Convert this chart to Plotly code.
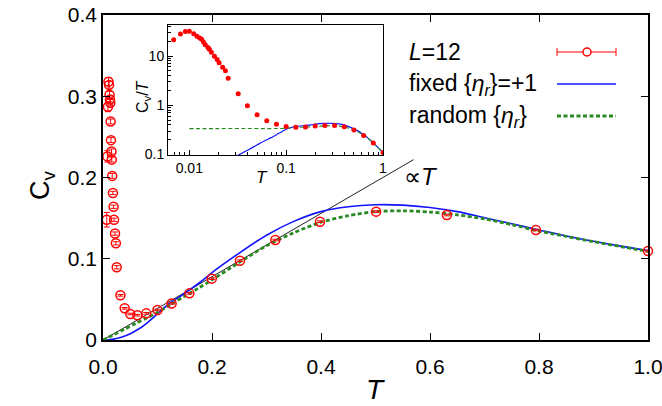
import plotly.graph_objects as go

# ---- L=12 Monte Carlo data: temperature, specific heat, error ----
T_L12 = [0.0069, 0.0081, 0.0091, 0.0100, 0.0111, 0.0120, 0.0128, 0.0134, 0.0140, 0.0146,
         0.0156, 0.0161, 0.0169, 0.0182, 0.0194, 0.0203, 0.0221, 0.0236, 0.0252, 0.0320,
         0.0398, 0.0501, 0.0631, 0.0794, 0.1000, 0.1259, 0.1585, 0.1995, 0.2512, 0.3162,
         0.3981, 0.5012, 0.6310, 0.7943, 1.0000]
C_L12 = [0.148, 0.226, 0.287, 0.318, 0.314, 0.302, 0.296, 0.292, 0.269, 0.246,
         0.232, 0.222, 0.202, 0.181, 0.164, 0.148, 0.131, 0.119, 0.0895, 0.055,
         0.039, 0.032, 0.0305, 0.0328, 0.037, 0.045, 0.0574, 0.0755, 0.0976, 0.123,
         0.1456, 0.158, 0.1538, 0.1354, 0.1095]
E_L12 = [0.009, 0.007, 0.006, 0.005, 0.004, 0.004, 0.003, 0.004, 0.003, 0.003,
         0.003, 0.003, 0.003, 0.002, 0.002, 0.002, 0.002, 0.002, 0.002, 0.001,
         0.001, 0.001, 0.001, 0.001, 0.001, 0.001, 0.001, 0.001, 0.001, 0.001,
         0.001, 0.001, 0.001, 0.001, 0.001]

# ---- fixed {eta_r} = +1 ----
T_fix = [0.0, 0.01, 0.02, 0.03, 0.04, 0.05, 0.06, 0.07, 0.08, 0.09, 0.10, 0.12, 0.15,
         0.18, 0.20, 0.25, 0.30, 0.35, 0.40, 0.45, 0.50, 0.55, 0.60, 0.65, 0.70, 0.75,
         0.80, 0.85, 0.90, 0.95, 1.00]
C_fix = [0.0, 0.0003, 0.0011, 0.0027, 0.0049, 0.0078, 0.0114, 0.0154, 0.0204, 0.0262,
         0.0325, 0.0440, 0.0575, 0.0720, 0.0830, 0.1070, 0.1290, 0.1460, 0.1580, 0.1640,
         0.1665, 0.1660, 0.1630, 0.1580, 0.1505, 0.1430, 0.1355, 0.1280, 0.1215, 0.1155,
         0.1100]

# ---- random {eta_r} ----
T_rnd = [0.0, 0.01, 0.02, 0.04, 0.06, 0.08, 0.10, 0.125, 0.15, 0.175, 0.20, 0.25, 0.30,
         0.35, 0.40, 0.45, 0.50, 0.55, 0.60, 0.65, 0.70, 0.75, 0.80, 0.85, 0.90, 0.95, 1.00]
C_rnd = [0.0, 0.00337, 0.00674, 0.0135, 0.0202, 0.0270, 0.0339, 0.0442, 0.0540, 0.0638,
         0.0740, 0.0955, 0.1160, 0.1320, 0.1450, 0.1530, 0.1580, 0.1590, 0.1575, 0.1540,
         0.1490, 0.1420, 0.1340, 0.1275, 0.1210, 0.1150, 0.1090]

# ---- guide line proportional to T ----
T_lin = [0.0, 0.57]
C_lin = [0.0, 0.222]

RED = "#ff0000"
BLUE = "#1414ff"
GREEN = "#2a8a22"
FONT = "Liberation Sans, Arial, Helvetica, sans-serif"

fig = go.Figure()

# main panel
fig.add_trace(go.Scatter(x=T_lin, y=C_lin, mode="lines",
                         line=dict(color="#222222", width=1), xaxis="x", yaxis="y"))
fig.add_trace(go.Scatter(x=T_fix, y=C_fix, mode="lines", line_shape="spline",
                         line=dict(color=BLUE, width=1.6, smoothing=0.8), xaxis="x", yaxis="y"))
fig.add_trace(go.Scatter(x=T_rnd, y=C_rnd, mode="lines", line_shape="spline",
                         line=dict(color=GREEN, width=2.8, dash="4px,2.5px", smoothing=0.8),
                         xaxis="x", yaxis="y"))
fig.add_trace(go.Scatter(x=T_L12, y=C_L12, mode="markers",
                         marker=dict(symbol="circle-open", size=9, color=RED,
                                     line=dict(width=1.5, color=RED)),
                         error_y=dict(type="data", array=E_L12, color=RED, thickness=1, width=3),
                         xaxis="x", yaxis="y", cliponaxis=False))

# inset: C/T on log-log axes
ct_fix = [(t, c / t) for t, c in zip(T_fix, C_fix) if t > 0]
ct_rnd = [(t, c / t) for t, c in zip(T_rnd, C_rnd) if t > 0]
ct_l12 = [(t, c / t) for t, c in zip(T_L12, C_L12)]

fig.add_trace(go.Scatter(x=[p[0] for p in ct_fix], y=[p[1] for p in ct_fix], mode="lines",
                         line_shape="spline", line=dict(color=BLUE, width=1.2, smoothing=0.6),
                         xaxis="x2", yaxis="y2"))
fig.add_trace(go.Scatter(x=[p[0] for p in ct_rnd], y=[p[1] for p in ct_rnd], mode="lines",
                         line_shape="spline",
                         line=dict(color=GREEN, width=1.2, dash="4px,2.5px", smoothing=0.6),
                         xaxis="x2", yaxis="y2"))
fig.add_trace(go.Scatter(x=[p[0] for p in ct_l12], y=[p[1] for p in ct_l12], mode="markers",
                         marker=dict(symbol="circle", size=5, color=RED),
                         xaxis="x2", yaxis="y2"))

# plot-area geometry (pixels) used to place text
L, R, TOP, BOT = 103, 648, 15, 340
W, H = 662, 406


def px(x):
    return (x - L) / (R - L)


def py(y):
    return (BOT - y) / (BOT - TOP)


axis_common = dict(showline=True, linecolor="black", linewidth=1.5, ticks="inside",
                   tickcolor="black", showgrid=False, zeroline=False, automargin=False,
                   ticklabeloverflow="allow",
                   tickfont=dict(family=FONT, size=21, color="black"))

fig.update_layout(
    width=W, height=H,
    margin=dict(l=L, r=W - R, t=TOP, b=H - BOT, autoexpand=False),
    paper_bgcolor="white", plot_bgcolor="white",
    showlegend=False,
    font=dict(family=FONT, color="black"),
    xaxis=dict(axis_common, range=[0, 1], dtick=0.2, tickformat=".1f", ticklen=7,
               ticklabelstandoff=7, mirror="ticks", domain=[0, 1], anchor="y"),
    yaxis=dict(axis_common, range=[0, 0.4], dtick=0.1, ticklen=7,
               mirror="ticks", domain=[0, 1], anchor="x"),
    xaxis2=dict(type="log", range=[-2.22, 0.0], domain=[px(168), px(383)], anchor="y2",
                showline=True, linecolor="black", linewidth=1, mirror=True, ticks="inside",
                ticklen=5, tickcolor="black", showgrid=False, zeroline=False, automargin=False,
                ticklabeloverflow="allow",
                tickvals=[0.01, 0.1, 1], ticktext=["0.01", "0.1", "1"],
                minor=dict(ticks="inside", ticklen=3, tickcolor="black", dtick="D1", showgrid=False),
                tickfont=dict(family=FONT, size=14, color="black")),
    yaxis2=dict(type="log", range=[-1.01, 1.63], domain=[py(155), py(25)], anchor="x2",
                showline=True, linecolor="black", linewidth=1, mirror=True, ticks="inside",
                ticklen=5, tickcolor="black", showgrid=False, zeroline=False, automargin=False,
                ticklabeloverflow="allow",
                tickvals=[0.1, 1, 10], ticktext=["0.1", "1", "10"],
                minor=dict(ticks="inside", ticklen=3, tickcolor="black", dtick="D1", showgrid=False),
                tickfont=dict(family=FONT, size=14, color="black")),
)

# white backing for the inset
fig.add_shape(type="rect", xref="paper", yref="paper", x0=px(168), x1=px(383),
              y0=py(155), y1=py(25), fillcolor="white", line=dict(width=0), layer="below")

annotations = [
    dict(x=0.5, y=py(390), text="<i>T</i>", font=dict(size=28)),
    dict(x=px(42), y=py(185), text="C<sub>v</sub>", textangle=-90, font=dict(size=27)),
    dict(x=px(262), y=py(178), text="<i>T</i>", font=dict(size=17)),
    dict(x=px(143), y=py(97), text="C<sub>v</sub>/<i>T</i>", textangle=-90, font=dict(size=16)),
    dict(x=px(421), y=py(176), text="\u221d<i>T</i>", font=dict(size=24)),
    dict(x=px(407), y=py(52), text="<i>L</i>=12", xanchor="left", font=dict(size=23)),
    dict(x=px(407), y=py(84), text="fixed {<i>\u03b7</i><sub><i>r</i></sub>}=+1",
         xanchor="left", font=dict(size=23)),
    dict(x=px(407), y=py(116), text="random {<i>\u03b7</i><sub><i>r</i></sub>}",
         xanchor="left", font=dict(size=23)),
]
for a in annotations:
    a.setdefault("xanchor", "center")
    fig.add_annotation(xref="paper", yref="paper", showarrow=False, yanchor="middle",
                       **a)

# legend samples
x0s, x1s, xc = px(557), px(616), px(587)
fig.add_shape(type="line", xref="paper", yref="paper", x0=x0s, x1=x1s, y0=py(52), y1=py(52),
              line=dict(color=RED, width=1))
for xe in (x0s, x1s):
    fig.add_shape(type="line", xref="paper", yref="paper", xsizemode="pixel", xanchor=xe,
                  x0=0, x1=0, ysizemode="pixel", yanchor=py(52), y0=-4, y1=4,
                  line=dict(color=RED, width=1))
fig.add_shape(type="circle", xref="paper", yref="paper", xsizemode="pixel", xanchor=xc,
              x0=-4, x1=4, ysizemode="pixel", yanchor=py(52), y0=-4, y1=4,
              line=dict(color=RED, width=1.5), fillcolor="white")
fig.add_shape(type="line", xref="paper", yref="paper", x0=x0s, x1=x1s, y0=py(84), y1=py(84),
              line=dict(color=BLUE, width=1.6))
fig.add_shape(type="line", xref="paper", yref="paper", x0=x0s, x1=x1s, y0=py(116), y1=py(116),
              line=dict(color=GREEN, width=2.8, dash="4px,2.5px"))

fig.write_html("out.html")
